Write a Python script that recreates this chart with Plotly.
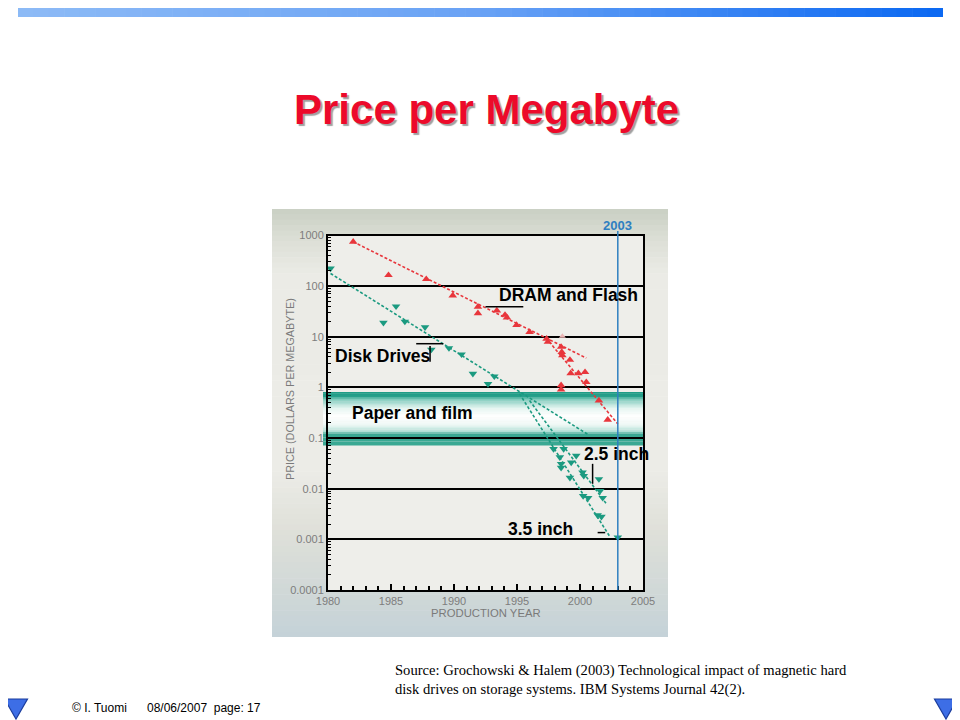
import math
import plotly.graph_objects as go

# ---------------- data ----------------
dram_years = [1982.0, 1984.8, 1987.8, 1989.9, 1991.9, 1991.9, 1993.4, 1994.05, 1994.2,
              1994.96, 1996.0, 1997.35, 1997.45, 1998.5, 1998.55, 1998.6, 1999.2, 1999.26,
              1999.87, 2000.4, 2000.5, 1998.5, 1998.5, 2001.5, 2002.2]
dram_price = [750, 165, 137, 65, 39, 29, 33, 27, 24,
              17, 12.4, 9.1, 7.9, 6.3, 5.0, 4.3, 3.5, 1.9,
              1.9, 2.0, 1.27, 1.1, 0.91, 0.55, 0.23]
dram_faint_years = [1998.6]
dram_faint_price = [10.2]

disk_years = [1980.2, 1984.4, 1985.4, 1986.1, 1987.7, 1988.2, 1989.6, 1990.6, 1991.5,
              1992.7, 1993.2, 1997.9, 1998.7, 1998.4, 1998.5, 1998.5, 1999.3, 1999.7,
              1999.2, 2000.2, 2000.3, 2001.5, 2000.25, 2000.65, 2001.6, 2001.8, 2001.4,
              2001.7, 2003.0]
disk_price = [224, 19, 40, 20, 15.5, 5.6, 6.0, 4.5, 1.87,
              1.17, 1.66, 0.061, 0.061, 0.042, 0.031, 0.026, 0.033, 0.045,
              0.0165, 0.021, 0.018, 0.0155, 0.0072, 0.0066, 0.0091, 0.0066, 0.0030,
              0.0028, 0.0011]

dram_trend1_years = [1982.0, 2000.5]
dram_trend1_price = [750, 3.8]
dram_trend2_years = [1997.3, 2003.0]
dram_trend2_price = [9.5, 0.19]

disk_trend_years = [1980.2, 2000.7]
disk_trend_price = [178, 0.115]
disk_35_years = [1995.2, 2002.4]
disk_35_price = [0.75, 0.0011]
disk_25_years = [1996.0, 2002.1]
disk_25_price = [0.55, 0.005]

paper_band = [0.071, 0.80]     # price range of "paper and film"
highlight_year = 2003

y_tickvals = [0.0001, 0.001, 0.01, 0.1, 1, 10, 100, 1000]
y_ticktext = ["0.0001", "0.001", "0.01", "0.1", "1", "10", "100", "1000"]
x_tickvals = [1980, 1985, 1990, 1995, 2000, 2005]
x_ticktext = ["1980", "1985", "1990", "1995", "2000", "2005"]

RED = "#e8363c"
GREEN = "#1b9a80"
W, H = 960, 720
OFF = 8  # page body margin of the browser


def px(x):
    return (x - OFF) / W


def py(y):
    return 1 - (y - OFF) / H


def hex2rgb(h):
    h = h.lstrip("#")
    return tuple(int(h[i:i + 2], 16) for i in (0, 2, 4))


def interp(stops, t):
    for (t0, c0), (t1, c1) in zip(stops, stops[1:]):
        if t0 <= t <= t1:
            f = 0 if t1 == t0 else (t - t0) / (t1 - t0)
            a, b = hex2rgb(c0), hex2rgb(c1)
            return "rgb(%d,%d,%d)" % tuple(round(a[i] + (b[i] - a[i]) * f) for i in range(3))
    return stops[-1][1]


shapes = []

# top gradient bar
n = 60
for i in range(n):
    x0 = 18 + (943 - 18) * i / n
    x1 = 18 + (943 - 18) * (i + 1) / n + 0.6
    c = interp([(0, "#8cbaf6"), (0.5, "#69a2f5"), (1, "#0c69f2")], i / (n - 1))
    shapes.append(dict(type="rect", xref="paper", yref="paper", x0=px(x0), x1=px(min(x1, 943)),
                       y0=py(17), y1=py(3), fillcolor=c, line=dict(width=0), layer="below"))

# chart image background gradient
top, bot = 209, 637
n = 80
for i in range(n):
    y0 = top + (bot - top) * i / n
    y1 = min(top + (bot - top) * (i + 1) / n + 0.6, bot)
    c = interp([(209, "#c9cfc3"), (240, "#dcdfd6"), (275, "#ebebe6"), (470, "#ecece7"),
                (530, "#dfe0d9"), (600, "#ced7d7"), (637, "#c4d2d8")], (y0 + y1) / 2)
    shapes.append(dict(type="rect", xref="paper", yref="paper", x0=px(272), x1=px(668),
                       y0=py(y1), y1=py(y0), fillcolor=c, line=dict(width=0), layer="below"))

# plot area background
shapes.append(dict(type="rect", xref="paper", yref="paper", x0=px(328), x1=px(643),
                   y0=py(590), y1=py(235.5), fillcolor="#eeeeea", line=dict(width=0),
                   layer="below"))

# paper and film band (gradient strips in log space)
lo, hi = math.log10(paper_band[0]), math.log10(paper_band[1])
n = 40
for i in range(n):
    a = hi - (hi - lo) * i / n
    b = hi - (hi - lo) * (i + 1) / n
    t = i / (n - 1)
    c = interp([(0, "#1f9c86"), (0.08, "#27a08b"), (0.12, "#7ccabb"), (0.3, "#e6f5f1"),
                (0.45, "#ffffff"), (0.62, "#eef8f5"), (0.76, "#a9dcd2"), (0.78, "#3aa893"),
                (1, "#3aa893")], t)
    shapes.append(dict(type="rect", xref="paper", yref="y", x0=px(323), x1=px(643),
                       y0=10 ** b, y1=10 ** a * 1.01, fillcolor=c, line=dict(width=0),
                       layer="below"))

# 2003 marker line
shapes.append(dict(type="line", xref="x", yref="paper", x0=highlight_year, x1=highlight_year,
                   y0=py(590), y1=py(231), line=dict(color="#2f7fc1", width=1.5), layer="above"))

# label leader lines
leaders = [
    ([1992.5, 1995.5], [39, 39]),
    ([1987.0, 1989.15], [7.3, 7.3]),
    ([1988.1, 1988.1], [6.6, 3.2]),
    ([2001.0, 2001.0], [0.031, 0.0125]),
    ([2001.4, 2002.0], [0.00136, 0.00136]),
]
for xs, ys in leaders:
    shapes.append(dict(type="line", xref="x", yref="y", x0=xs[0], x1=xs[1], y0=ys[0], y1=ys[1],
                       line=dict(color="black", width=1.5), layer="above"))

# slide triangles
for cx in (16, 946):
    path = "M %f,%f L %f,%f L %f,%f Z" % (px(cx - 11.5), py(699), px(cx + 11.5), py(699),
                                          px(cx), py(719))
    shapes.append(dict(type="path", xref="paper", yref="paper", path=path,
                       fillcolor="#3d6ee6", line=dict(color="#1b3d9e", width=1.2)))

fig = go.Figure()

line_style = dict(width=1.6, dash="3px,2px")
fig.add_trace(go.Scatter(x=dram_trend1_years, y=dram_trend1_price, mode="lines",
                         line=dict(color=RED, **line_style), hoverinfo="skip"))
fig.add_trace(go.Scatter(x=dram_trend2_years, y=dram_trend2_price, mode="lines",
                         line=dict(color=RED, **line_style), hoverinfo="skip"))
for xs, ys in ((disk_trend_years, disk_trend_price), (disk_35_years, disk_35_price),
               (disk_25_years, disk_25_price)):
    fig.add_trace(go.Scatter(x=xs, y=ys, mode="lines",
                             line=dict(color=GREEN, **line_style), hoverinfo="skip"))

fig.add_trace(go.Scatter(x=dram_years, y=dram_price, mode="markers", name="DRAM and Flash",
                         marker=dict(symbol="triangle-up", size=7.5, color=RED)))
fig.add_trace(go.Scatter(x=dram_faint_years, y=dram_faint_price, mode="markers",
                         marker=dict(symbol="triangle-up", size=6, color="#eab4b4")))
fig.add_trace(go.Scatter(x=disk_years, y=disk_price, mode="markers", name="Disk Drives",
                         marker=dict(symbol="triangle-down", size=7.5, color=GREEN)))

ann = []
ann.append(dict(text="<b>Price per Megabyte</b>", x=px(486.5), y=py(110), xref="paper",
                yref="paper", showarrow=False, xanchor="center", yanchor="middle",
                font=dict(family="Liberation Sans, Arial, sans-serif", size=42,
                          color="#ec0a2a", shadow="2px 2px 1px #a0a0a0")))

lab_font = dict(family="Liberation Sans, Arial, sans-serif", size=17.5, color="black")
for txt, x, y in (("DRAM and Flash", 497, 295), ("Disk Drives", 333, 356),
                  ("Paper and film", 350, 413), ("2.5 inch", 582, 454),
                  ("3.5 inch", 506, 529)):
    ann.append(dict(text="<b>%s</b>" % txt, x=px(x), y=py(y), xref="paper", yref="paper",
                    showarrow=False, xanchor="left", yanchor="middle", font=lab_font))

ann.append(dict(text="<b>2003</b>", x=highlight_year, y=py(225), xref="x", yref="paper",
                showarrow=False, xanchor="center", yanchor="middle",
                font=dict(family="Liberation Sans, Arial, sans-serif", size=13,
                          color="#2f7fc1")))

axis_title_font = dict(family="Liberation Sans, Arial, sans-serif", size=11.3, color="#7a7a7a")
ann.append(dict(text="PRODUCTION YEAR", x=px(486), y=py(613), xref="paper", yref="paper",
                showarrow=False, xanchor="center", yanchor="middle", font=axis_title_font))
ann.append(dict(text="PRICE (DOLLARS PER MEGABYTE)", x=px(290), y=py(389), xref="paper",
                yref="paper", showarrow=False, xanchor="center", yanchor="middle",
                textangle=-90, font=dict(family="Liberation Sans, Arial, sans-serif",
                                         size=10.8, color="#7a7a7a")))

ann.append(dict(text="Source: Grochowski &amp; Halem (2003) Technological impact of magnetic hard"
                     "<br>disk drives on storage systems. IBM Systems Journal 42(2).",
                x=px(393), y=py(660), xref="paper", yref="paper", showarrow=False,
                xanchor="left", yanchor="top", align="left",
                font=dict(family="Liberation Serif, Times New Roman, serif", size=14.6,
                          color="black")))
foot_font = dict(family="Liberation Sans, Arial, sans-serif", size=12, color="black")
ann.append(dict(text="© I. Tuomi", x=px(70), y=py(708), xref="paper", yref="paper",
                showarrow=False, xanchor="left", yanchor="middle", font=foot_font))
ann.append(dict(text="08/06/2007&nbsp;&nbsp;page: 17", x=px(145), y=py(708), xref="paper",
                yref="paper", showarrow=False, xanchor="left", yanchor="middle",
                font=foot_font))

tick_font = dict(family="Liberation Sans, Arial, sans-serif", size=11, color="#7d7d7d")
fig.update_layout(
    width=W, height=H, margin=dict(l=0, r=0, t=0, b=0, pad=0, autoexpand=False),
    paper_bgcolor="white", plot_bgcolor="rgba(0,0,0,0)",
    showlegend=False, shapes=shapes, annotations=ann,
    xaxis=dict(domain=[px(328), px(643)], range=[1980, 2005], tickvals=x_tickvals,
               ticktext=x_ticktext, ticks="inside", ticklen=6, tickwidth=2,
               tickcolor="black", showline=True, linecolor="black", linewidth=2,
               mirror=True, showgrid=False, zeroline=False, tickfont=tick_font,
               automargin=False,
               minor=dict(dtick=1, ticks="inside", ticklen=4, tickwidth=1.5,
                          tickcolor="black", showgrid=False)),
    yaxis=dict(type="log", domain=[py(590), py(235.5)], range=[-4, 3],
               tickvals=y_tickvals, ticktext=y_ticktext, showgrid=True,
               gridcolor="black", gridwidth=2, showline=True, linecolor="black",
               linewidth=2, mirror=True, ticks="", tickfont=tick_font, zeroline=False,
               automargin=False,
               minor=dict(ticks="inside", ticklen=3, tickwidth=1, tickcolor="black",
                          dtick="D1", showgrid=False)),
)

fig.write_html("out.html")
